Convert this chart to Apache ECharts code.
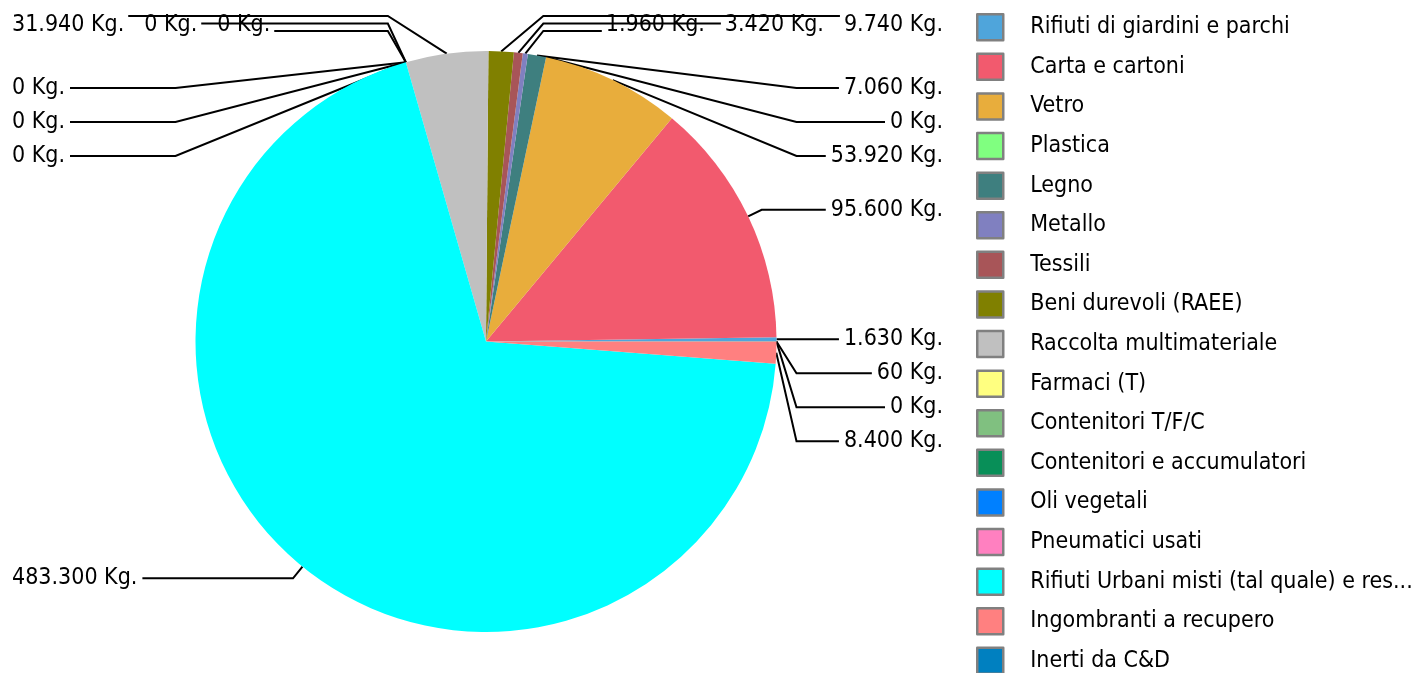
<!DOCTYPE html>
<html>
<head>
<meta charset="utf-8">
<script src="https://cdn.jsdelivr.net/npm/echarts@6/dist/echarts.min.js"></script>
<style>
  html, body { margin: 0; padding: 0; background: #fff; }
  #chart { width: 1427px; height: 673px; }
</style>
</head>
<body>
<div id="chart"></div>
<script>
const categories = [
  'Rifiuti di giardini e parchi',
  'Carta e cartoni',
  'Vetro',
  'Plastica',
  'Legno',
  'Metallo',
  'Tessili',
  'Beni durevoli (RAEE)',
  'Raccolta multimateriale',
  'Farmaci (T)',
  'Contenitori T/F/C',
  'Contenitori e accumulatori',
  'Oli vegetali',
  'Pneumatici usati',
  'Rifiuti Urbani misti (tal quale) e residui',
  'Ingombranti a recupero',
  'Inerti da C&D',
  'Altri rifiuti'
];
const kgValues = [1630, 95600, 53920, 0, 7060, 1960, 3420, 9740, 31940, 0, 0, 0, 0, 0, 483300, 8400, 0, 60];
const sliceColors = [
  '#4fa5db', '#f25a6e', '#e8ad3c', '#80ff80', '#3e7f7f', '#8080c0',
  '#a85558', '#808000', '#c0c0c0', '#ffff80', '#80c080', '#088f58',
  '#0080ff', '#ff80c0', '#00ffff', '#ff8080', '#0080c0', '#c08040'
];

const FONT = "'DejaVu Sans Condensed', 'Liberation Sans', sans-serif";
const FONT_SIZE = 23;

// pie geometry
const CX = 486, CY = 341.5, R = 290.5, LINE_LEN = 15;
// label arrangement: a row across the top, then columns on both sides
const ROW_Y = 25, ROW_GAP = 20, COL_TOP = 88, COL_STEP = 34, MAX_SHIFT = 110;
const EDGE_L = 12, EDGE_R = 943;

function fmtKg(v) {
  return String(v).replace(/\B(?=(\d{3})+(?!\d))/g, '.') + ' Kg.';
}

// work out where every label goes (pie runs counterclockwise from 3 o'clock)
function buildLabelLayout() {
  const ctx = document.createElement('canvas').getContext('2d');
  ctx.font = FONT_SIZE + 'px ' + FONT;
  const total = kgValues.reduce((a, b) => a + b, 0);
  let acc = 0;
  const items = kgValues.map((v, i) => {
    const a = (acc + v / 2) / total * 2 * Math.PI;
    acc += v;
    const cos = Math.cos(a), sin = Math.sin(a);
    return {
      i, cos, sin,
      side: cos >= 0 ? 'right' : 'left',
      ex: CX + R * cos,
      ey: CY - R * sin,
      natY: CY - (R + LINE_LEN) * sin,
      w: ctx.measureText(fmtKg(v)).width
    };
  });

  const out = [];
  ['left', 'right'].forEach(side => {
    const right = side === 'right';
    const list = items.filter(d => d.side === side).sort((a, b) => a.natY - b.natY);

    // the fewest labels moved to the top row so the column never drifts too far
    let k = 0, ys = [];
    for (; k <= list.length; k++) {
      ys = [];
      let prev = -Infinity, ok = true;
      list.slice(k).forEach(d => {
        const y = Math.max(d.natY, prev + COL_STEP, COL_TOP);
        if (y - d.natY > MAX_SHIFT) ok = false;
        ys.push(y);
        prev = y;
      });
      if (ok) break;
    }

    // top row
    const row = list.slice(0, k);
    const bendX = right
      ? Math.max(...row.map(d => d.ex)) + 18
      : Math.min(...row.map(d => d.ex)) - 18;
    let cursor = right ? EDGE_R : EDGE_L;
    row.forEach((d, j) => {
      const lineY = ROW_Y - 9 + 7.5 * j;
      const x = cursor;
      const near = right ? x - d.w - 4 : x + d.w + 4;
      out[d.i] = {
        x, y: ROW_Y,
        align: right ? 'right' : 'left',
        verticalAlign: 'middle',
        labelLinePoints: [[d.ex, d.ey], [bendX, lineY], [near, lineY]]
      };
      cursor = right ? x - d.w - ROW_GAP : x + d.w + ROW_GAP;
    });

    // side column
    list.slice(k).forEach((d, j) => {
      const y = ys[j];
      const x = right ? EDGE_R : EDGE_L;
      const near = right ? x - d.w - 5 : x + d.w + 5;
      let bx = Math.abs(y - d.natY) < 3
        ? CX + (R + LINE_LEN) * d.cos
        : (right ? CX + R + 20 : CX - R - 20);
      bx = right ? Math.min(bx, near - 8) : Math.max(bx, near + 8);
      out[d.i] = {
        x, y,
        align: right ? 'right' : 'left',
        verticalAlign: 'middle',
        labelLinePoints: [[d.ex, d.ey], [bx, y], [near, y]]
      };
    });
  });
  return out;
}

const labelPlan = buildLabelLayout();

const chart = echarts.init(document.getElementById('chart'));

chart.setOption({
  backgroundColor: '#fff',
  animation: false,
  color: sliceColors,
  legend: {
    orient: 'vertical',
    left: 976,
    top: 13,
    height: 800,
    padding: 0,
    itemWidth: 26,
    itemHeight: 26,
    itemGap: 11.1,
    icon: 'rect',
    itemStyle: { borderColor: '#808080', borderWidth: 2.5 },
    textStyle: {
      fontFamily: FONT,
      fontSize: FONT_SIZE,
      color: '#000',
      padding: [0, 0, 0, 22],
      width: 392,
      overflow: 'truncate',
      ellipsis: '...'
    },
    data: categories
  },
  series: [{
    type: 'pie',
    center: [CX, CY],
    radius: R,
    startAngle: 0,
    clockwise: false,
    avoidLabelOverlap: false,
    data: categories.map((name, i) => ({ name, value: kgValues[i] })),
    itemStyle: { borderWidth: 0 },
    label: {
      formatter: p => fmtKg(p.value),
      fontFamily: FONT,
      fontSize: FONT_SIZE,
      color: '#000',
      overflow: 'none'
    },
    labelLine: {
      show: true,
      length: LINE_LEN,
      length2: 20,
      lineStyle: { color: '#000', width: 2 }
    },
    labelLayout: p => labelPlan[p.dataIndex],
    emphasis: { disabled: true }
  }]
});
</script>
</body>
</html>
